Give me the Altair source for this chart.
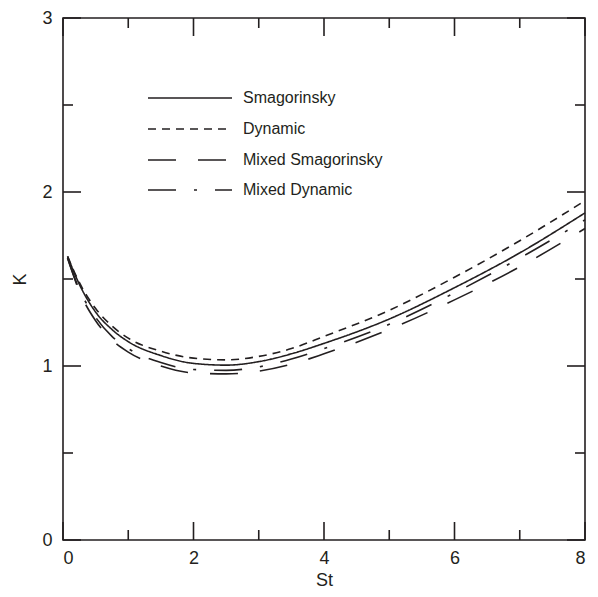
import altair as alt
import pandas as pd

# ---- data ----
st = [0.07, 0.25, 0.5, 0.75, 1.0, 1.5, 2.0, 2.5, 3.0, 3.5, 4.0, 5.0, 6.0, 7.0, 8.0]
k_smag = [1.63, 1.47, 1.31, 1.21, 1.14, 1.06, 1.015, 1.005, 1.025, 1.07, 1.13, 1.27, 1.45, 1.65, 1.88]
k_dyn = [1.63, 1.48, 1.33, 1.23, 1.16, 1.085, 1.045, 1.035, 1.055, 1.10, 1.17, 1.32, 1.51, 1.72, 1.95]
k_mixsmag = [1.62, 1.43, 1.26, 1.15, 1.08, 1.00, 0.96, 0.955, 0.97, 1.01, 1.07, 1.21, 1.38, 1.57, 1.79]
k_mixdyn = [1.62, 1.44, 1.28, 1.17, 1.10, 1.02, 0.98, 0.975, 0.995, 1.04, 1.10, 1.24, 1.42, 1.62, 1.84]
series_names = ["Smagorinsky", "Dynamic", "Mixed Smagorinsky", "Mixed Dynamic"]

x_major = [0, 2, 4, 6, 8]
x_minor = [1, 3, 5, 7]
y_major = [0, 1, 2, 3]
y_minor = [0.5, 1.5, 2.5]

# ---- style ----
INK = "#231f20"
FONT = "Liberation Sans"
W, H = 522, 522
dashes = [[1, 0], [8, 6], [28, 22], [28, 18, 3, 18]]

rows = []
for name, vals in zip(series_names, [k_smag, k_dyn, k_mixsmag, k_mixdyn]):
    for x, y in zip(st, vals):
        rows.append({"St": x, "K": y, "model": name})
df = pd.DataFrame(rows)

xs = alt.Scale(domain=[0, 8], nice=False, zero=False)
ys = alt.Scale(domain=[0, 3], nice=False, zero=False)
dash_scale = alt.Scale(domain=series_names, range=dashes)

x_axis = alt.Axis(values=x_major, format="d", ticks=False, tickSize=0, domain=False, grid=False,
                  labelPadding=9, labelFontSize=18, labelFont=FONT, labelColor=INK,
                  titleFont=FONT, titleFontSize=18, titleFontWeight="normal", titleColor=INK,
                  titleX=W / 2, titleY=40, titleBaseline="middle")
y_axis = alt.Axis(values=y_major, format="d", ticks=False, tickSize=0, domain=False, grid=False,
                  labelPadding=11, labelFontSize=18, labelFont=FONT, labelColor=INK,
                  titleFont=FONT, titleFontSize=18, titleFontWeight="normal", titleColor=INK,
                  titleX=-43, titleY=H / 2, titleBaseline="middle", titleAngle=-90)

lines = alt.Chart(df).mark_line(color=INK, strokeWidth=1.6, interpolate="monotone").encode(
    x=alt.X("St:Q", scale=xs, title="St", axis=x_axis),
    y=alt.Y("K:Q", scale=ys, title="K", axis=y_axis),
    strokeDash=alt.StrokeDash("model:N", scale=dash_scale, legend=None),
    detail="model:N",
)


def tick_layer(vals, axis, a, b):
    d = pd.DataFrame({"v": vals})
    base = alt.Chart(d).mark_rule(color=INK, strokeWidth=1.6)
    if axis == "x":
        return base.encode(x=alt.X("v:Q", scale=xs, title="St", axis=x_axis), y=alt.value(a), y2=alt.value(b))
    return base.encode(y=alt.Y("v:Q", scale=ys, title="K", axis=y_axis), x=alt.value(a), x2=alt.value(b))


ticks = [
    tick_layer(x_major, "x", H, H - 18),
    tick_layer(x_minor, "x", H, H - 10),
    tick_layer(x_major, "x", 0, 18),
    tick_layer(x_minor, "x", 0, 10),
    tick_layer(y_major, "y", 0, 18),
    tick_layer(y_minor, "y", 0, 10),
    tick_layer(y_major, "y", W, W - 18),
    tick_layer(y_minor, "y", W, W - 10),
]

legend_layers = []
row_y = [80, 111, 142, 172]
for name, dash, yy in zip(series_names, dashes, row_y):
    d = pd.DataFrame({"name": [name]})
    legend_layers.append(
        alt.Chart(d).mark_rule(color=INK, strokeWidth=1.6, strokeDash=dash).encode(
            x=alt.value(85), x2=alt.value(169), y=alt.value(yy))
    )
    legend_layers.append(
        alt.Chart(d).mark_text(align="left", baseline="middle", font=FONT, fontSize=16, color=INK).encode(
            x=alt.value(180), y=alt.value(yy), text="name:N")
    )

chart = alt.layer(lines, *ticks, *legend_layers).properties(
    width=W, height=H,
    padding={"left": 55, "top": 10, "right": 5, "bottom": 52},
    autosize=alt.AutoSizeParams(type="none"),
    background="white",
).configure_view(stroke=INK, strokeWidth=1.6)

chart.save("out.html", embed_options={"renderer": "svg", "actions": False})
